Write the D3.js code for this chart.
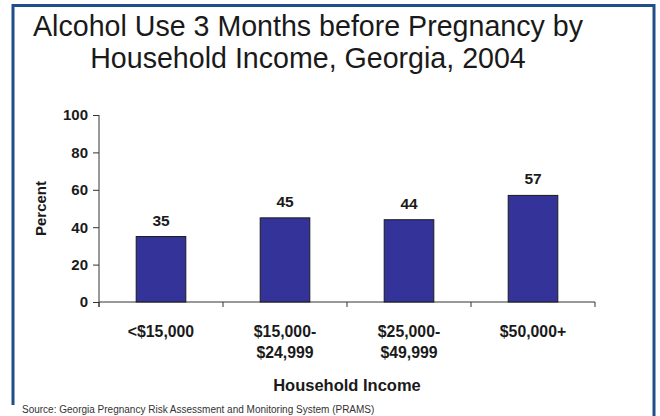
<!DOCTYPE html>
<html>
<head>
<meta charset="utf-8">
<script src="https://cdn.jsdelivr.net/npm/d3@7"></script>
<style>
  html, body { margin: 0; padding: 0; background: #fff; }
  svg { display: block; font-family: Arial, "Liberation Sans", sans-serif; }
</style>
</head>
<body>
<svg id="chart" width="660" height="416"></svg>
<script>
const categories = ["<$15,000", "$15,000-\n$24,999", "$25,000-\n$49,999", "$50,000+"];
const values = [35, 45, 44, 57];
const yTicks = [0, 20, 40, 60, 80, 100];
const titleLines = ["Alcohol Use 3 Months before Pregnancy by", "Household Income, Georgia, 2004"];
const yLabel = "Percent";
const xLabel = "Household Income";
const sourceText = "Source: Georgia Pregnancy Risk Assessment and Monitoring System (PRAMS)";

const svg = d3.select("#chart");
const plot = { left: 99, right: 595, top: 115, bottom: 302 };

// frame
svg.append("path")
  .attr("d", `M13,405 L13,5.5 L654,5.5 L654,416`)
  .attr("fill", "none")
  .attr("stroke", "#1F4E8A")
  .attr("stroke-width", 3);

// title
svg.append("g").selectAll("text").data(titleLines).join("text")
  .attr("x", 308)
  .attr("y", (d, i) => 36 + i * 32)
  .attr("text-anchor", "middle")
  .attr("font-size", 28.6)
  .attr("fill", "#1a1a1a")
  .text(d => d);

const x = d3.scaleBand().domain(categories).range([plot.left, plot.right])
  .paddingInner(0.6).paddingOuter(0.3);
const y = d3.scaleLinear().domain([0, 100]).range([plot.bottom, plot.top]);

// y axis
const yAxis = svg.append("g")
  .attr("transform", `translate(${plot.left},0)`)
  .call(d3.axisLeft(y).tickValues(yTicks).tickSize(6).tickPadding(5));
yAxis.select(".domain").attr("d", `M0,${plot.top}V${plot.bottom + 5}`).attr("stroke", "#333");
yAxis.selectAll(".tick line").attr("stroke", "#333");
yAxis.selectAll(".tick text")
  .attr("font-size", 15).attr("font-weight", "bold").attr("fill", "#1a1a1a")
  .attr("font-family", "Arial, 'Liberation Sans', sans-serif");

// x axis line and ticks at band boundaries
const step = x.step();
const boundaries = d3.range(categories.length + 1).map(i => plot.left + i * step);
svg.append("line")
  .attr("x1", plot.left).attr("x2", plot.right)
  .attr("y1", plot.bottom).attr("y2", plot.bottom)
  .attr("stroke", "#333");
svg.append("g").selectAll("line").data(boundaries).join("line")
  .attr("x1", d => d).attr("x2", d => d)
  .attr("y1", plot.bottom).attr("y2", plot.bottom + 5)
  .attr("stroke", "#333");

// bars
svg.append("g").selectAll("rect").data(values).join("rect")
  .attr("x", (d, i) => x(categories[i]))
  .attr("y", d => y(d))
  .attr("width", x.bandwidth())
  .attr("height", d => y(0) - y(d))
  .attr("fill", "#333399")
  .attr("stroke", "#1a1a1a")
  .attr("stroke-width", 1);

// value labels
svg.append("g").selectAll("text").data(values).join("text")
  .attr("x", (d, i) => x(categories[i]) + x.bandwidth() / 2)
  .attr("y", d => y(d) - 11)
  .attr("text-anchor", "middle")
  .attr("font-size", 15.5).attr("font-weight", "bold").attr("fill", "#1a1a1a")
  .text(d => d);

// category labels
const catG = svg.append("g").selectAll("text").data(categories).join("text")
  .attr("x", d => x(d) + x.bandwidth() / 2)
  .attr("y", 337)
  .attr("text-anchor", "middle")
  .attr("font-size", 15.8).attr("font-weight", "bold").attr("fill", "#1a1a1a");
catG.selectAll("tspan").data(d => d.split("\n")).join("tspan")
  .attr("x", function() { return d3.select(this.parentNode).attr("x"); })
  .attr("dy", (d, i) => i === 0 ? 0 : 21)
  .text(d => d);

// axis titles
svg.append("text")
  .attr("transform", `translate(46,${(plot.top + plot.bottom) / 2}) rotate(-90)`)
  .attr("text-anchor", "middle")
  .attr("font-size", 15).attr("font-weight", "bold").attr("fill", "#1a1a1a")
  .text(yLabel);

svg.append("text")
  .attr("x", 347).attr("y", 391)
  .attr("text-anchor", "middle")
  .attr("font-size", 16.5).attr("font-weight", "bold").attr("fill", "#1a1a1a")
  .text(xLabel);

// source
svg.append("text")
  .attr("x", 22).attr("y", 413)
  .attr("font-size", 10).attr("fill", "#333")
  .text(sourceText);
</script>
</body>
</html>
